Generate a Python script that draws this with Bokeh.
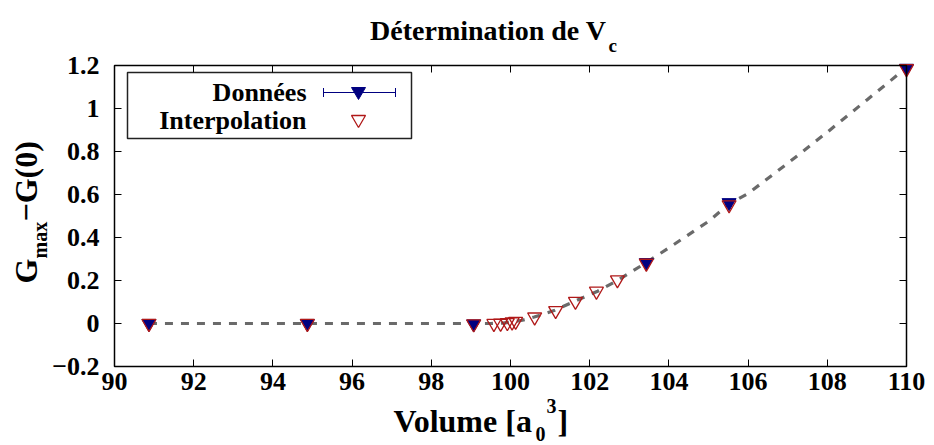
import math
from bokeh.plotting import figure
from bokeh.models import (FixedTicker, LinearAxis, BoxAnnotation, PolyAnnotation,
                          Arrow, TeeHead, Range1d)
from bokeh.core.properties import value
from bokeh.embed import file_html
from bokeh.resources import INLINE

# ---------------- data ----------------
don_x = [90.87, 94.87, 99.07, 103.43, 105.52, 110.0]
don_y = [0.0, 0.0, -0.002, 0.283, 0.562, 1.187]

int_x = [90.87, 94.87, 99.07, 99.58, 99.75, 99.92, 100.04, 100.13, 100.61, 101.14,
         101.64, 102.17, 102.70, 103.43, 105.52, 110.0]
int_y = [0.0, 0.0, -0.002, 0.0, 0.001, 0.004, 0.007, 0.01, 0.03, 0.06,
         0.103, 0.15, 0.203, 0.28, 0.552, 1.185]

curve_x = [90.87, 95.0, 99.0, 99.5, 99.8, 100.0, 100.3, 100.6, 101.1, 101.6, 102.2,
           102.7, 103.4, 104.0, 105.0, 105.5, 106.0, 107.0, 108.0, 109.0, 110.0]
curve_y = [0.0, 0.0, 0.0, 0.0, 0.002, 0.006, 0.015, 0.03, 0.06, 0.102, 0.15,
           0.2, 0.28, 0.352, 0.475, 0.553, 0.605, 0.745, 0.89, 1.04, 1.19]

x_ticks = [90, 92, 94, 96, 98, 100, 102, 104, 106, 108, 110]
x_tick_labels = ["90", "92", "94", "96", "98", "100", "102", "104", "106", "108", "110"]
y_ticks = [-0.2, 0.0, 0.2, 0.4, 0.6, 0.8, 1.0, 1.2]
y_tick_labels = ["\u22120.2", "0", "0.2", "0.4", "0.6", "0.8", "1", "1.2"]

title_main = "Détermination de V"
title_sub = "c"
ylab_parts = ["G", "max", "\u2212G(0)"]
xlab_parts = ["Volume [a", "0", "3", "]"]
legend_labels = ["Données", "Interpolation"]

FONT = "Liberation Serif"
NAVY = "#000080"
RED = "#b01818"

# ---------------- layout (page pixels) ----------------
W, H = 934, 445
FL, FR, FT, FB = 114, 906, 65, 366          # plotting box
XMIN, XMAX, YMIN, YMAX = 90.0, 110.0, -0.2, 1.2
KX = (FR - FL) / (XMAX - XMIN)
KY = (FB - FT) / (YMAX - YMIN)
X0 = XMIN - FL / KX
X1 = XMAX + (W - FR) / KX
Y1 = YMAX + FT / KY
Y0 = YMIN - (H - FB) / KY

def dx(px):
    return X0 + px / KX

def dy(py):
    return Y1 - py / KY

def sy(py):
    return H - py

p = figure(width=W, height=H, x_range=Range1d(X0, X1), y_range=Range1d(Y0, Y1),
           output_backend="svg", toolbar_location=None,
           min_border_left=0, min_border_right=0, min_border_top=0, min_border_bottom=0)
p.background_fill_color = "white"
p.border_fill_color = "white"
p.outline_line_color = None
p.xgrid.visible = False
p.ygrid.visible = False

def style_axis(ax, ticks, labels, show):
    ax.ticker = FixedTicker(ticks=ticks)
    ax.major_label_overrides = {t: (l if show else "") for t, l in zip(ticks, labels)}
    ax.major_tick_in = 7
    ax.major_tick_out = 0
    ax.minor_tick_in = 0
    ax.minor_tick_out = 0
    ax.major_tick_line_color = "black"
    ax.major_tick_line_width = 1
    ax.axis_line_color = None
    ax.major_label_text_font = FONT
    ax.major_label_text_font_style = "bold"
    ax.major_label_text_font_size = "26px" if show else "0px"
    ax.major_label_text_color = "black"

xa = p.xaxis[0]
ya = p.yaxis[0]
style_axis(xa, x_ticks, x_tick_labels, True)
style_axis(ya, y_ticks, y_tick_labels, True)
xa.fixed_location = YMIN
ya.fixed_location = XMIN
xa.major_label_standoff = 6
ya.major_label_standoff = 15

top_ax = LinearAxis(fixed_location=YMAX)
style_axis(top_ax, x_ticks, x_tick_labels, False)
p.add_layout(top_ax, "above")
right_ax = LinearAxis(fixed_location=XMAX)
style_axis(right_ax, y_ticks, y_tick_labels, False)
p.add_layout(right_ax, "right")

# plot border
p.add_layout(BoxAnnotation(left=XMIN, right=XMAX, bottom=YMIN, top=YMAX,
                           fill_alpha=0, fill_color=None,
                           line_color="black", line_alpha=1.0, line_width=1.5))

# data
p.line(curve_x, curve_y, line_color="#6a6a6a", line_width=3.2, line_dash="8 8")
p.scatter(don_x, don_y, marker="inverted_triangle", size=14,
          fill_color=NAVY, line_color=NAVY, line_width=1)
p.scatter(int_x, int_y, marker="inverted_triangle", size=14,
          fill_color=None, line_color=RED, line_width=1.3)

def lab(text, px, py, size="26px", align="left", angle=0.0):
    # (px, py): visual centre line of the text in page pixels
    p.text(x=[dx(px)], y=[dy(py)], text=[text], text_font=value(FONT),
           text_font_style="bold", text_font_size=size, text_color="black",
           text_align=align, text_baseline="middle", angle=angle)

# title
lab(title_main, 606, 30, size="28px", align="right")
lab(title_sub, 608, 45, size="19px")

# x label
lab(xlab_parts[0], 393, 420, size="32px")
lab(xlab_parts[1], 535, 433, size="20px")
lab(xlab_parts[2], 546, 405, size="20px")
lab(xlab_parts[3], 557, 420, size="32px")

# y label (rotated)
lab(ylab_parts[0], 25, 283, size="32px", angle=math.pi / 2)
lab(ylab_parts[1], 39, 258, size="20px", angle=math.pi / 2)
lab(ylab_parts[2], 25, 221, size="32px", angle=math.pi / 2)

# legend
p.add_layout(BoxAnnotation(left=127, right=411, top=sy(72), bottom=sy(138),
                           left_units="screen", right_units="screen",
                           top_units="screen", bottom_units="screen",
                           fill_color="white", fill_alpha=1.0, level="underlay",
                           line_color="#222222", line_alpha=1.0, line_width=1.5))
lab(legend_labels[0], 306, 92, size="26px", align="right")
lab(legend_labels[1], 306, 120, size="26px", align="right")
p.add_layout(Arrow(x_start=323, y_start=sy(92), x_end=395, y_end=sy(92),
                   start_units="screen", end_units="screen",
                   start=TeeHead(size=9, line_color=NAVY, line_width=1),
                   end=TeeHead(size=9, line_color=NAVY, line_width=1),
                   line_color=NAVY, line_width=1))
p.add_layout(PolyAnnotation(xs=[351, 365, 358], ys=[sy(87), sy(87), sy(99)],
                            xs_units="screen", ys_units="screen",
                            fill_color=NAVY, fill_alpha=1.0,
                            line_color=NAVY, line_alpha=1.0, line_width=1))
p.add_layout(PolyAnnotation(xs=[351, 365, 358], ys=[sy(115), sy(115), sy(127)],
                            xs_units="screen", ys_units="screen",
                            fill_color=None, fill_alpha=0,
                            line_color=RED, line_alpha=1.0, line_width=1.3))

open("out.html", "w").write(file_html(p, INLINE))
